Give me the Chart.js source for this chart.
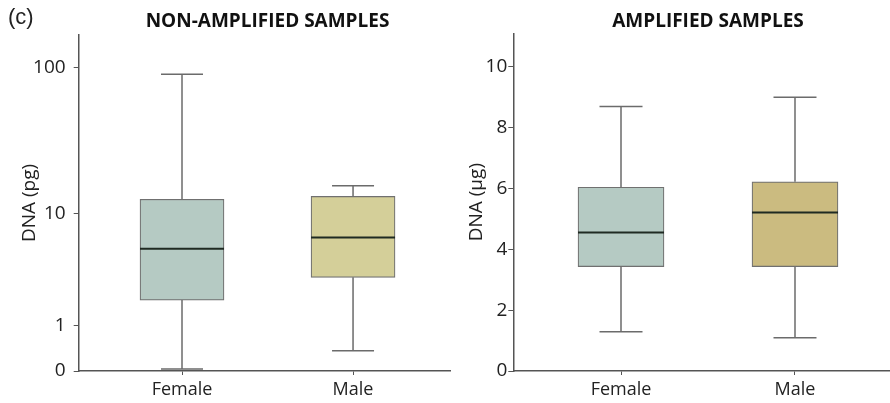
<!DOCTYPE html>
<html>
<head>
<meta charset="utf-8">
<script src="https://cdn.jsdelivr.net/npm/chart.js@4.4.1/dist/chart.umd.min.js"></script>
<style>
  body { margin: 0; background: #fff; }
  #wrap { position: relative; width: 890px; height: 403px; }
  canvas { position: absolute; top: 0; }
  #leftChart { left: 0; }
  #rightChart { left: 455px; }
</style>
</head>
<body>
<div id="wrap">
  <canvas id="leftChart" width="455" height="403"></canvas>
  <canvas id="rightChart" width="435" height="403"></canvas>
</div>
<script>
// Data
const categories = ["Female", "Male"];

// Non-amplified samples (pg) - min, q1, median, q3, max
const nonAmpMin = [0.03, 0.36];
const nonAmpQ1 = [1.94, 3.15];
const nonAmpMedian = [5.4, 6.6];
const nonAmpQ3 = [12.6, 13.2];
const nonAmpMax = [90, 15.7];
const nonAmpTicks = [0, 1, 10, 100];

// Amplified samples (ug)
const ampMin = [1.29, 1.09];
const ampQ1 = [3.43, 3.43];
const ampMedian = [4.55, 5.21];
const ampQ3 = [6.04, 6.22];
const ampMax = [8.69, 9.0];
const ampTicks = [0, 2, 4, 6, 8, 10];

const FONT = "'Open Sans', sans-serif";
const TICK_FONT = "'Liberation Sans Narrow', 'Open Sans', sans-serif";
const AXIS_COLOR = '#555555';
const BOX_BORDER = '#707070';
const WHISKER = '#6b6b6b';
const MEDIAN = '#1f2a22';

// left axis is log10(v + 1), so 0 sits at the bottom
const tf = v => Math.log10(v + 1);

// whiskers, caps, medians and panel titles drawn through the chart's scales
const boxExtras = {
    id: 'boxExtras',
    afterDatasetsDraw(chart, args, opts) {
        const ctx = chart.ctx;
        const xs = chart.scales.x, ys = chart.scales.y;
        const meta = chart.getDatasetMeta(0);
        ctx.save();
        opts.min.forEach((mn, i) => {
            const bar = meta.data[i];
            const half = bar.width / 2;
            const cx = xs.getPixelForValue(i + 1);
            const yMin = ys.getPixelForValue(opts.tf(mn));
            const yQ1 = ys.getPixelForValue(opts.tf(opts.q1[i]));
            const yQ3 = ys.getPixelForValue(opts.tf(opts.q3[i]));
            const yMax = ys.getPixelForValue(opts.tf(opts.max[i]));
            const yMed = ys.getPixelForValue(opts.tf(opts.median[i]));
            ctx.strokeStyle = WHISKER;
            ctx.lineWidth = 1.5;
            ctx.beginPath();
            ctx.moveTo(cx, yQ3); ctx.lineTo(cx, yMax);
            ctx.moveTo(cx, yQ1); ctx.lineTo(cx, yMin);
            ctx.moveTo(cx - half / 2, yMax); ctx.lineTo(cx + half / 2, yMax);
            ctx.moveTo(cx - half / 2, yMin); ctx.lineTo(cx + half / 2, yMin);
            ctx.stroke();
            ctx.strokeStyle = MEDIAN;
            ctx.lineWidth = 2;
            ctx.beginPath();
            ctx.moveTo(cx - half, yMed); ctx.lineTo(cx + half, yMed);
            ctx.stroke();
        });
        // panel title
        const mid = (xs.getPixelForValue(1) + xs.getPixelForValue(2)) / 2;
        ctx.fillStyle = '#111';
        ctx.font = "bold 19px " + FONT;
        ctx.textAlign = 'center';
        ctx.textBaseline = 'middle';
        ctx.fillText(opts.title, mid, 22);
        if (opts.tag) {
            ctx.fillStyle = '#222';
            ctx.font = "22px 'Liberation Sans', Arial, sans-serif";
            ctx.textAlign = 'left';
            ctx.fillText(opts.tag, 8, 18);
        }
        ctx.restore();
    }
};

function makeChart(id, cfg) {
    const boxes = categories.map((c, i) => ({ x: i + 1, y: [cfg.tf(cfg.q1[i]), cfg.tf(cfg.q3[i])] }));
    return new Chart(document.getElementById(id), {
        type: 'bar',
        data: {
            datasets: [{
                data: boxes,
                backgroundColor: cfg.colors,
                borderColor: BOX_BORDER,
                borderWidth: 1.2,
                borderSkipped: false,
                barThickness: cfg.barWidth
            }]
        },
        plugins: [boxExtras],
        options: {
            responsive: false,
            animation: false,
            layout: { padding: { top: cfg.top, right: cfg.padRight, left: 0, bottom: 0 } },
            plugins: {
                legend: { display: false },
                tooltip: { enabled: false },
                boxExtras: {
                    min: cfg.min, q1: cfg.q1, median: cfg.median, q3: cfg.q3, max: cfg.max,
                    tf: cfg.tf, title: cfg.title, tag: cfg.tag
                }
            },
            scales: {
                x: {
                    type: 'linear',
                    offset: false,
                    min: cfg.xMin,
                    max: cfg.xMax,
                    afterBuildTicks: s => { s.ticks = [{ value: 1 }, { value: 2 }]; },
                    afterFit: s => { s.height = 32; },
                    ticks: {
                        callback: (v, i) => categories[i],
                        color: '#222',
                        font: { family: FONT, size: 18 },
                        padding: 4
                    },
                    grid: { offset: false, drawOnChartArea: false, tickLength: 4, color: AXIS_COLOR },
                    border: { color: AXIS_COLOR, width: 1.5 }
                },
                y: {
                    min: 0,
                    max: cfg.yMax,
                    afterBuildTicks: s => { s.ticks = cfg.ticks.map(t => ({ value: cfg.tf(t) })); },
                    afterFit: s => { s.width = cfg.yWidth; },
                    ticks: {
                        callback: (v, i) => String(cfg.ticks[i]),
                        color: '#222',
                        font: { family: TICK_FONT, size: 19 },
                        padding: cfg.tickPad
                    },
                    grid: { drawOnChartArea: false, tickLength: 5, color: AXIS_COLOR },
                    border: { color: AXIS_COLOR, width: 1.5 },
                    title: {
                        display: true,
                        text: cfg.yTitle,
                        color: '#222',
                        font: { family: FONT, size: 19 },
                        padding: { top: cfg.titlePad, bottom: 0 }
                    }
                }
            }
        }
    });
}

makeChart('leftChart', {
    min: nonAmpMin, q1: nonAmpQ1, median: nonAmpMedian, q3: nonAmpQ3, max: nonAmpMax,
    ticks: nonAmpTicks, tf: tf, yMax: 2.218,
    colors: ['#b5cac3', '#d4cf99'],
    title: 'NON-AMPLIFIED SAMPLES', tag: '(c)', yTitle: 'DNA (pg)',
    xMin: 0.396, xMax: 2.571, top: 35, padRight: 4.3, yWidth: 78.7,
    barWidth: 84, tickPad: 8, titlePad: 18.6
});

makeChart('rightChart', {
    min: ampMin, q1: ampQ1, median: ampMedian, q3: ampQ3, max: ampMax,
    ticks: ampTicks, tf: v => v, yMax: 11.1,
    colors: ['#b5cac3', '#cbbb80'],
    title: 'AMPLIFIED SAMPLES', tag: null, yTitle: 'DNA (\u00b5g)',
    xMin: 0.381, xMax: 2.546, top: 33.3, padRight: 0, yWidth: 58.3,
    barWidth: 86, tickPad: 1, titlePad: 10.6
});
</script>
</body>
</html>
